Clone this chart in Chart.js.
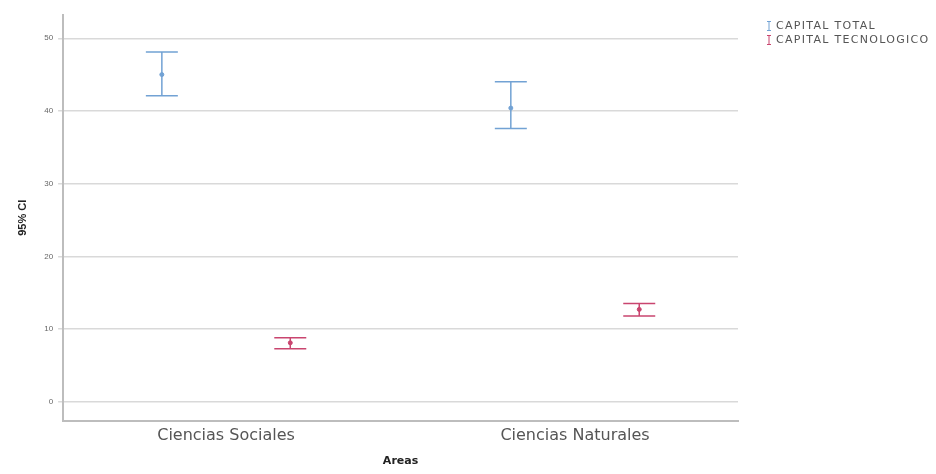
<!DOCTYPE html>
<html>
<head>
<meta charset="utf-8">
<script src="https://cdn.jsdelivr.net/npm/chart.js@4"></script>
<style>
  html, body { margin: 0; padding: 0; background: #fff; }
  #wrap { width: 936px; height: 474px; }
</style>
</head>
<body>
<div id="wrap"><canvas id="ci-chart"></canvas></div>
<script>
// data
var categories = ["Ciencias Sociales", "Ciencias Naturales"];
var seriesNames = ["CAPITAL TOTAL", "CAPITAL TECNOLOGICO"];
var totalMean = [45.0, 40.4];
var totalLow = [42.1, 37.6];
var totalHigh = [48.1, 44.0];
var tecMean = [8.1, 12.7];
var tecLow = [7.3, 11.8];
var tecHigh = [8.8, 13.5];
var yTicks = [0, 10, 20, 30, 40, 50];

var blue = "#72a2d4";
var red = "#c9456f";
var offset = 0.184;

function points(means, shift) {
    return means.map(function (m, i) { return { x: i + shift, y: m }; });
}

// draws the whiskers and caps from the low / high arrays
var errorBars = {
    id: "errorBars",
    afterDatasetsDraw: function (chart) {
        var ctx = chart.ctx;
        var xs = chart.scales.x, ys = chart.scales.y;
        chart.data.datasets.forEach(function (ds) {
            ds.low.forEach(function (lo, i) {
                var x = xs.getPixelForValue(ds.data[i].x);
                var y1 = ys.getPixelForValue(lo);
                var y2 = ys.getPixelForValue(ds.high[i]);
                ctx.save();
                ctx.strokeStyle = ds.borderColor;
                ctx.lineWidth = 1.5;
                ctx.beginPath();
                ctx.moveTo(x, y1); ctx.lineTo(x, y2);
                ctx.moveTo(x - 16, y1); ctx.lineTo(x + 16, y1);
                ctx.moveTo(x - 16, y2); ctx.lineTo(x + 16, y2);
                ctx.stroke();
                ctx.restore();
            });
        });
    }
};

// legend in the right margin, outside the plot
var sideLegend = {
    id: "sideLegend",
    afterDraw: function (chart) {
        var ctx = chart.ctx;
        var x = chart.chartArea.right + 31;
        var y = 26;
        ctx.save();
        chart.data.datasets.forEach(function (ds) {
            ctx.strokeStyle = ds.borderColor;
            ctx.lineWidth = 1;
            ctx.beginPath();
            ctx.moveTo(x - 2, y - 4.5); ctx.lineTo(x + 2, y - 4.5);
            ctx.moveTo(x, y - 4.5); ctx.lineTo(x, y + 4.5);
            ctx.moveTo(x - 2, y + 4.5); ctx.lineTo(x + 2, y + 4.5);
            ctx.stroke();
            ctx.fillStyle = "#555";
            ctx.font = "11px 'DejaVu Sans'";
            ctx.letterSpacing = "1.3px";
            ctx.textBaseline = "middle";
            ctx.textAlign = "left";
            ctx.fillText(ds.label, x + 7, y);
            y += 14;
        });
        ctx.restore();
    }
};

new Chart(document.getElementById("ci-chart"), {
    type: "scatter",
    data: {
        datasets: [
            {
                label: seriesNames[0],
                data: points(totalMean, -offset),
                low: totalLow,
                high: totalHigh,
                borderColor: blue,
                backgroundColor: blue,
                pointRadius: 2
            },
            {
                label: seriesNames[1],
                data: points(tecMean, offset),
                low: tecLow,
                high: tecHigh,
                borderColor: red,
                backgroundColor: red,
                pointRadius: 2
            }
        ]
    },
    options: {
        responsive: true,
        maintainAspectRatio: false,
        animation: false,
        layout: { padding: { left: 14, top: 15, right: 198, bottom: 0 } },
        plugins: {
            tooltip: { enabled: false },
            legend: { display: false }
        },
        scales: {
            x: {
                type: "linear",
                min: -0.467,
                max: 1.467,
                afterBuildTicks: function (scale) {
                    scale.ticks = categories.map(function (c, i) { return { value: i }; });
                },
                grid: { display: false, drawTicks: false },
                border: { color: "#bdbdbd", width: 2 },
                ticks: {
                    color: "#555",
                    padding: 6,
                    font: { family: "DejaVu Sans", size: 16 },
                    callback: function (v) { return categories[v]; }
                },
                title: {
                    display: true,
                    text: "Areas",
                    color: "#222",
                    padding: { top: 3, bottom: 6 },
                    font: { family: "DejaVu Sans", size: 11, weight: "bold" }
                }
            },
            y: {
                min: -2.6,
                max: 53.2,
                afterBuildTicks: function (scale) {
                    scale.ticks = yTicks.map(function (v) { return { value: v }; });
                },
                grid: { color: "#d9d9d9", lineWidth: 1.5, tickLength: 5 },
                border: { color: "#bdbdbd", width: 2 },
                ticks: {
                    color: "#666",
                    padding: 5,
                    font: { family: "Liberation Sans, Arial", size: 8 }
                },
                title: {
                    display: true,
                    text: "95% CI",
                    color: "#222",
                    padding: { top: 2, bottom: 10 },
                    font: { family: "Liberation Sans, Arial", size: 11, weight: "bold" }
                }
            }
        }
    },
    plugins: [errorBars, sideLegend]
});
</script>
</body>
</html>
